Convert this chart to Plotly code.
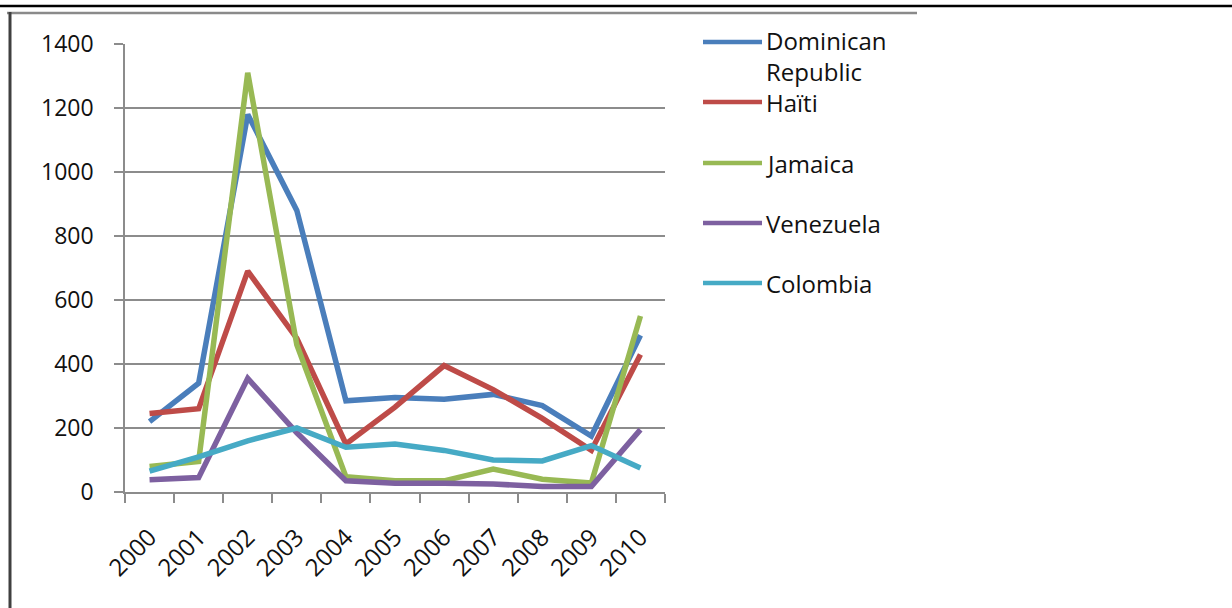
import plotly.graph_objects as go

years = ["2000", "2001", "2002", "2003", "2004", "2005", "2006", "2007", "2008", "2009", "2010"]
countries = ["Dominican Republic", "Haïti", "Jamaica", "Venezuela", "Colombia"]
dominican = [220, 340, 1180, 880, 285, 295, 290, 305, 270, 175, 490]
haiti = [245, 260, 690, 480, 150, 265, 395, 320, 230, 130, 430]
jamaica = [80, 95, 1310, 460, 48, 35, 35, 72, 40, 28, 550]
venezuela = [38, 45, 355, 185, 35, 27, 27, 25, 17, 17, 195]
colombia = [65, 110, 160, 200, 140, 150, 130, 100, 97, 145, 75]
y_ticks = [0, 200, 400, 600, 800, 1000, 1200, 1400]

series = [dominican, haiti, jamaica, venezuela, colombia]
colors = ["#4A7EBB", "#BE4B48", "#98B954", "#7D60A0", "#46AAC5"]

W, H = 1232, 608
L, R, T, B = 125, 665, 44, 492

def X(px):
    return (px - L) / (R - L)

def Y(py):
    return (B - py) / (B - T)

FONT = "Open Sans"
TXT = "#111111"
GRID = "#8c8c8c"

fig = go.Figure()
for name, vals, col in zip(countries, series, colors):
    fig.add_trace(go.Scatter(x=years, y=vals, name=name, mode="lines",
                             line=dict(color=col, width=5.5), showlegend=False))

shapes = [
    dict(type="line", xref="paper", yref="paper", x0=X(0), x1=X(1232), y0=Y(6), y1=Y(6),
         line=dict(color="#000000", width=2.5)),
    dict(type="line", xref="paper", yref="paper", x0=X(7), x1=X(917), y0=Y(13), y1=Y(13),
         line=dict(color="#8a8a8a", width=2.5)),
    dict(type="line", xref="paper", yref="paper", x0=X(10), x1=X(10), y0=Y(12), y1=Y(612),
         line=dict(color="#404040", width=3)),
]
annotations = []
legend_y = [42, 102, 163, 223, 283]
for name, col, ly in zip(countries, colors, legend_y):
    shapes.append(dict(type="line", xref="paper", yref="paper", x0=X(703), x1=X(762),
                       y0=Y(ly), y1=Y(ly), line=dict(color=col, width=4.5)))
    if name == "Dominican Republic":
        annotations.append(dict(xref="paper", yref="paper", x=X(764), y=Y(ly - 20),
                                xanchor="left", yanchor="top", align="left", showarrow=False,
                                text="Dominican<br>Republic",
                                font=dict(family=FONT, size=24, color=TXT)))
    else:
        annotations.append(dict(xref="paper", yref="paper", x=X(764), y=Y(ly),
                                xanchor="left", yanchor="middle", showarrow=False,
                                text=name, font=dict(family=FONT, size=24, color=TXT)))

fig.update_layout(
    width=W, height=H, autosize=False,
    margin=dict(l=L, r=W - R, t=T, b=H - B, pad=0),
    paper_bgcolor="white", plot_bgcolor="white",
    font=dict(family=FONT, size=23, color=TXT),
    shapes=shapes, annotations=annotations,
    xaxis=dict(type="category", range=[-0.5, 10.5], showgrid=False,
               showline=True, linecolor=GRID, linewidth=1.5,
               ticks="outside", tickson="boundaries", ticklen=9, tickcolor=GRID, tickwidth=1.5,
               tickangle=-45, tickfont=dict(family=FONT, size=24, color=TXT),
               ticklabelstandoff=20, zeroline=False),
    yaxis=dict(range=[0, 1400], tickvals=y_ticks, showgrid=True, gridcolor=GRID, gridwidth=1.5,
               showline=True, linecolor=GRID, linewidth=1.5,
               ticks="outside", ticklen=9, tickcolor=GRID, tickwidth=1.5,
               tickfont=dict(family=FONT, size=23, color=TXT),
               ticklabelstandoff=16, zeroline=False),
)

fig.write_html("out.html", config={"displayModeBar": False},
               post_script="document.body.style.margin='0px';document.body.style.overflow='hidden';")
